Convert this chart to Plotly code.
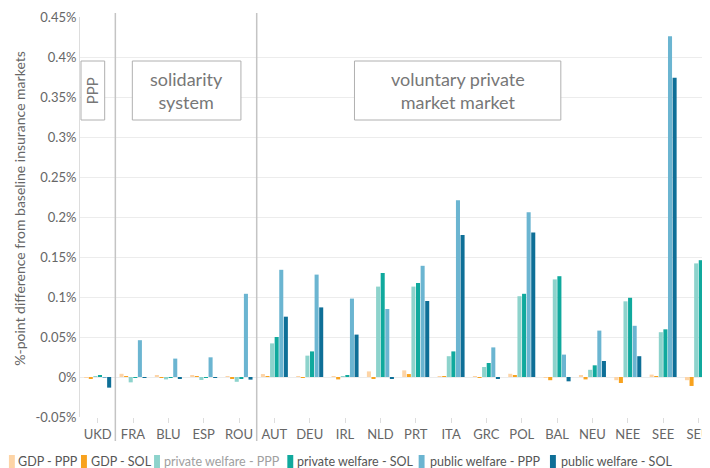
import plotly.graph_objects as go

# ---------------- data (percentage points) ----------------
categories = ["UKD", "FRA", "BLU", "ESP", "ROU", "AUT", "DEU", "IRL", "NLD",
              "PRT", "ITA", "GRC", "POL", "BAL", "NEU", "NEE", "SEE", "SEU"]

gdp_ppp = [-0.0005, 0.004, 0.0025, 0.0017, 0.001, 0.0037, 0.001, 0.0005, 0.007,
           0.0083, 0.001, 0.0005, 0.004, -0.001, 0.002, -0.004, 0.003, -0.004]
gdp_sol = [-0.0017, 0.0005, -0.001, 0.001, -0.0015, 0.0005, -0.001, -0.003, -0.0017,
           0.0037, 0.0005, -0.001, 0.002, -0.004, -0.003, -0.0075, 0.001, -0.0112]
private_welfare_ppp = [0.0003, -0.0067, -0.003, -0.0037, -0.006, 0.042, 0.0267, 0.001, 0.113,
                       0.113, 0.026, 0.0125, 0.101, 0.122, 0.009, 0.0946, 0.056, 0.142]
private_welfare_sol = [0.0017, -0.0005, -0.0005, -0.001, -0.002, 0.050, 0.032, 0.002, 0.130,
                       0.1175, 0.032, 0.0175, 0.104, 0.126, 0.0146, 0.099, 0.0596, 0.146]
public_welfare_ppp = [-0.0005, 0.046, 0.023, 0.0246, 0.104, 0.134, 0.128, 0.098, 0.085,
                      0.139, 0.221, 0.037, 0.206, 0.028, 0.058, 0.064, 0.426, 0.03]
public_welfare_sol = [-0.0133, -0.001, -0.002, -0.001, -0.0033, 0.0754, 0.087, 0.053, -0.0025,
                      0.095, 0.1775, -0.002, 0.1805, -0.0054, 0.020, 0.026, 0.374, 0.02]

series_names = ["GDP - PPP", "GDP - SOL", "private welfare - PPP",
                "private welfare - SOL", "public welfare - PPP", "public welfare - SOL"]
series_values = [gdp_ppp, gdp_sol, private_welfare_ppp,
                 private_welfare_sol, public_welfare_ppp, public_welfare_sol]

y_tick_values = [-0.05, 0, 0.05, 0.1, 0.15, 0.2, 0.25, 0.3, 0.35, 0.4, 0.45]
y_tick_labels = ["-0.05%", "0%", "0.05%", "0.1%", "0.15%", "0.2%", "0.25%",
                 "0.3%", "0.35%", "0.4%", "0.45%"]

# ---------------- styling ----------------
colors = ["#fdd4a6", "#f8a21e", "#8dd3cc", "#10a99d", "#6bb5d1", "#0e6f97"]
FONT = "Lato"
# the page places the figure 8px from the window's top-left corner
OFF = 8
W, H = 710 - OFF, 468 - OFF
# plot area in window pixels: x 80..710, y 17..417
PL, PR, PT, PB = 80, 710, 17, 417
L, R, T, B = PL - OFF, 0, PT - OFF, H - (PB - OFF)
PW, PH = PR - PL, PB - PT


def px(xpix):
    return (xpix - PL) / PW


def py(ypix):
    return (PB - ypix) / PH


fig = go.Figure()
for name, vals, col in zip(series_names, series_values, colors):
    fig.add_trace(go.Bar(x=categories, y=vals, name=name,
                         marker=dict(color=col, line=dict(width=0))))

shapes = []
# group separators
for xv in [0.5, 4.5]:
    shapes.append(dict(type="line", xref="x", yref="paper", x0=xv, x1=xv,
                       y0=py(441), y1=py(13), line=dict(color="#c4c4c4", width=1.5),
                       layer="above"))

annotations = []
# boxes with labels
boxes = [
    ("PPP", 81, 105, -90, 15),
    ("solidarity<br>system", 133, 243, 0, 18),
    ("voluntary private<br>market market", 358, 567, 0, 18),
]
for text, x0, x1, ang, fs in boxes:
    shapes.append(dict(type="rect", xref="paper", yref="paper",
                       x0=px(x0), x1=px(x1), y0=py(120), y1=py(61),
                       line=dict(color="#b0b0b0", width=1), fillcolor="white",
                       layer="above"))
    annotations.append(dict(text=text, xref="paper", yref="paper",
                            x=px((x0 + x1) / 2), y=py(90.5), showarrow=False,
                            textangle=ang, font=dict(family=FONT, size=fs, color="#777777"),
                            xanchor="center", yanchor="middle"))

# y-axis title
annotations.append(dict(text="%-point difference from baseline insurance markets",
                        xref="paper", yref="paper", x=px(18), y=py(208),
                        showarrow=False, textangle=-90, xanchor="center", yanchor="middle",
                        font=dict(family=FONT, size=14, color="#666666")))

# custom legend
swatch_x = [11, 84, 158, 293, 426, 559]
text_x = [15, 89, 163, 298, 432, 565]
legend_text_colors = ["#555555", "#555555", "#a0a0a0", "#555555", "#555555", "#555555"]
for name, col, sx, tx, tc in zip(series_names, colors, swatch_x, text_x, legend_text_colors):
    shapes.append(dict(type="rect", xref="paper", yref="paper",
                       x0=px(sx - 3), x1=px(sx + 3), y0=py(468), y1=py(455),
                       line=dict(width=0), fillcolor=col))
    annotations.append(dict(text=name, xref="paper", yref="paper",
                            x=px(tx), y=py(461.5), showarrow=False,
                            xanchor="left", yanchor="middle",
                            font=dict(family=FONT, size=12.5, color=tc)))

fig.update_layout(
    width=W, height=H,
    margin=dict(l=L, r=R, t=T, b=B, pad=0),
    paper_bgcolor="white", plot_bgcolor="white",
    barmode="group", bargap=0.22, bargroupgap=0.12,
    showlegend=False,
    font=dict(family=FONT, size=13, color="#666666"),
    shapes=shapes, annotations=annotations,
    xaxis=dict(type="category", range=[-0.5, 17.1], showgrid=False,
               ticks="outside", ticklen=5, tickcolor="#dddddd",
               showline=False, zeroline=False,
               tickfont=dict(family=FONT, size=13, color="#666666")),
    yaxis=dict(range=[-0.05, 0.45], tickvals=y_tick_values, ticktext=y_tick_labels,
               showgrid=True, gridcolor="#ececec", gridwidth=1,
               zeroline=False, showline=True, linecolor="#dddddd", linewidth=1,
               ticks="", tickfont=dict(family=FONT, size=13, color="#666666")),
)

fig.write_html("out.html")
